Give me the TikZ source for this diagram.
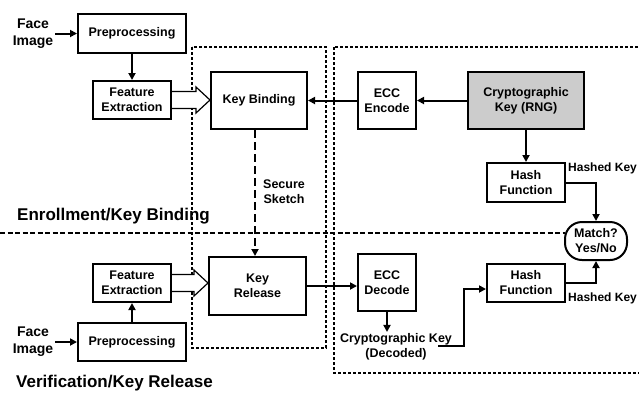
\documentclass[tikz,border=0pt]{standalone}
\usepackage{fontspec}
\setmainfont{Liberation Sans}
\usetikzlibrary{arrows.meta,calc}
\begin{document}
\begin{tikzpicture}[x=1pt,y=-1pt,
  box/.style={draw,line width=2pt,align=center,font=\fontsize{12.5}{15}\selectfont\bfseries,inner sep=0pt},
  lbl/.style={align=center,font=\fontsize{12.5}{15}\selectfont\bfseries,inner sep=1pt},
  hk/.style={anchor=west,font=\fontsize{12}{14}\selectfont\bfseries,inner sep=0pt},
  face/.style={align=center,font=\fontsize{14}{17}\selectfont\bfseries,inner sep=2pt},
  ttl/.style={anchor=west,font=\fontsize{17}{20}\selectfont\bfseries,inner sep=0pt},
  arr/.style={line width=2pt,-{Triangle[length=7pt,width=7pt]}},
  dotrect/.style={line width=2pt,dash pattern=on 3pt off 2pt},
  divider/.style={line width=1.8pt,dash pattern=on 5pt off 2.5pt},
  sketch/.style={line width=2pt,dash pattern=on 8pt off 4pt,-{Triangle[length=7pt,width=7pt]}},
  hollow/.style={draw,fill=white,line width=1.2pt,line join=miter}]
\useasboundingbox (0,0) rectangle (639,392);

% dotted regions
\draw[dotrect] (192,47) rectangle (326,348);
\draw[dotrect] (334,47) rectangle (660,373);

% boxes
\node[box,minimum width=108,minimum height=39] (pre1) at (132,33.5) {Preprocessing};
\node[box,minimum width=78,minimum height=38] (fe1) at (132,100) {Feature\\Extraction};
\node[box,minimum width=96,minimum height=57] (kb) at (259,100.5) {Key Binding};
\node[box,minimum width=58,minimum height=57] (ecce) at (387,100.5) {ECC\\Encode};
\node[box,minimum width=116,minimum height=57,fill=gray!40] (ck) at (526,100.5) {Cryptographic\\Key (RNG)};
\node[box,minimum width=78,minimum height=39] (hash1) at (526,182.5) {Hash\\Function};
\node[box,minimum width=62,minimum height=38,rounded corners=17pt] (match) at (596,241) {Match?\\Yes/No};
\node[box,minimum width=97,minimum height=58] (kr) at (257.5,286) {Key\\Release};
\node[box,minimum width=58,minimum height=57] (eccd) at (387,282.5) {ECC\\Decode};
\node[box,minimum width=78,minimum height=38] (hash2) at (526,283) {Hash\\Function};
\node[box,minimum width=78,minimum height=38] (fe2) at (132,283) {Feature\\Extraction};
\node[box,minimum width=108,minimum height=38] (pre2) at (132,342) {Preprocessing};

% labels
\node[face] (face1) at (33,33.5) {Face\\Image};
\node[face] (face2) at (33,342) {Face\\Image};
\node[ttl] (enroll) at (17,216) {Enrollment/Key Binding};
\node[ttl] (verif) at (16,383) {Verification/Key Release};
\node[lbl,anchor=west] (ss) at (262,192) {Secure\\Sketch};
\node[hk] (hk1) at (568,168) {Hashed Key};
\node[hk] (hk2) at (568,298) {Hashed Key};
\node[lbl] (dec) at (396,346.5) {Cryptographic Key\\(Decoded)};
\coordinate (d0) at (438,346);
\coordinate (s0) at ($(kb.south)+(-4,0)$);

% divider
\draw[divider] (0,233) -- (565,233);

% connectors
\draw[arr] (face1.east) -- (pre1.west);
\draw[arr] (face2.east) -- (pre2.west);
\draw[arr] (pre1.south) -- (fe1.north);
\draw[arr] (pre2.north) -- (fe2.south);
\draw[arr] (ck.west) -- (ecce.east);
\draw[arr] (ecce.west) -- (ecce.west -| kb.east);
\draw[arr] (ck.south) -- (hash1.north);
\draw[arr] (hash1.east) -| (match.north);
\draw[arr] (hash2.east) -| (match.south);
\draw[sketch] (s0) -- (s0 |- kr.north);
\draw[arr] (kr.east) -- (kr.east -| eccd.west);
\draw[arr] (eccd.south) -- (eccd.south |- dec.north);
\draw[arr] (d0) -- ++(26,0) |- ($(hash2.west)+(0,6)$);

% hollow arrows
\coordinate (t1) at (kb.west |- fe1.east);
\coordinate (t2) at (kr.west |- fe2.east);
\draw[hollow] ($(fe1.east)+(0,-8.5)$) -- ($(t1)+(-14,-8.5)$) -- ($(t1)+(-14,-13)$) -- (t1) -- ($(t1)+(-14,13)$) -- ($(t1)+(-14,8.5)$) -- ($(fe1.east)+(0,8.5)$);
\draw[hollow] ($(fe2.east)+(0,-8.5)$) -- ($(t2)+(-14,-8.5)$) -- ($(t2)+(-14,-13)$) -- (t2) -- ($(t2)+(-14,13)$) -- ($(t2)+(-14,8.5)$) -- ($(fe2.east)+(0,8.5)$);
\end{tikzpicture}
\end{document}
